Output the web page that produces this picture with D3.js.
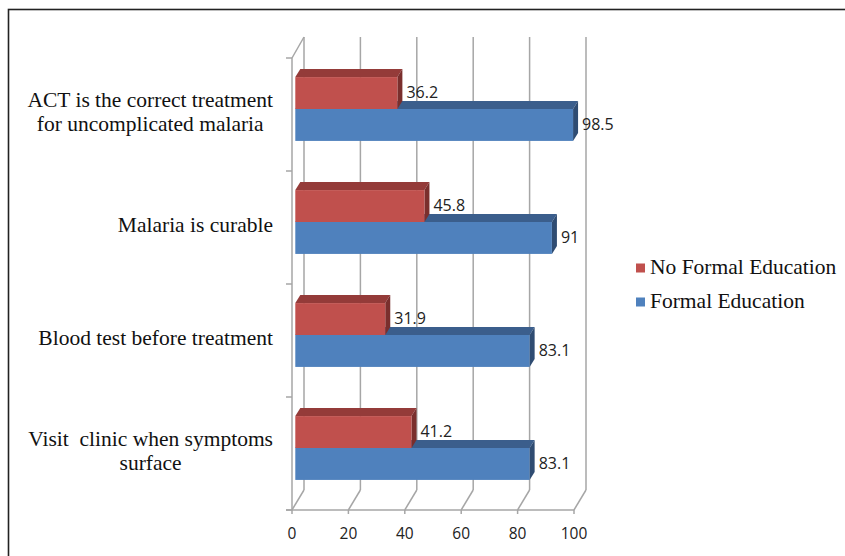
<!DOCTYPE html>
<html>
<head>
<meta charset="utf-8">
<script src="https://cdn.jsdelivr.net/npm/d3@7"></script>
<style>
  body { margin: 0; background: #fff; }
  .cat { font-family: "Liberation Serif", serif; font-size: 21.5px; fill: #111; white-space: pre; }
  .val { font-family: "Open Sans", sans-serif; font-size: 16px; fill: #222; }
  .tick-label { font-family: "Open Sans", sans-serif; font-size: 15.5px; fill: #222; }
  .leg { font-family: "Liberation Serif", serif; font-size: 21.5px; fill: #111; }
</style>
</head>
<body>
<div class="visHolder"></div>
<script>
const categories = [
  ["ACT is the correct treatment", "for uncomplicated malaria"],
  ["Malaria is curable"],
  ["Blood test before treatment"],
  ["Visit  clinic when symptoms", "surface"]
];
const seriesNames = ["Formal Education", "No Formal Education"];
const formalEdu = [98.5, 91, 83.1, 83.1];
const noFormalEdu = [36.2, 45.8, 31.9, 41.2];
const xTicks = [0, 20, 40, 60, 80, 100];

const width = 845, height = 556;
const svg = d3.select(".visHolder").append("svg")
  .attr("width", width).attr("height", height);

// chart frame
svg.append("rect")
  .attr("x", 8.5).attr("y", 9.5)
  .attr("width", 845).attr("height", 560)
  .attr("fill", "none").attr("stroke", "#222").attr("stroke-width", 1.6);

// front plane scales
const xScale = d3.scaleLinear().domain([0, 100]).range([292, 574]);
const catKeys = categories.map((d, i) => i);
const yScale = d3.scaleBand().domain(catKeys).range([58, 510]);
const inner = d3.scaleBand().domain(["no", "formal"])
  .range([0, yScale.bandwidth()]).paddingOuter(0.77);

// depth vectors
const DX = 12, DY = -20;        // wall depth
const BX = 3.3, BY = -5.5;      // bar front plane offset
const TX = 5, TY = -8;          // bar depth

const grid = "#a6a6a6";
const yTop = 37, yBot = 510;

// back wall gridlines
svg.append("g").selectAll("line").data(xTicks).enter().append("line")
  .attr("x1", d => xScale(d) + DX).attr("x2", d => xScale(d) + DX)
  .attr("y1", yTop).attr("y2", yBot + DY)
  .attr("stroke", grid).attr("stroke-width", 1.5);

// floor diagonals
svg.append("g").selectAll("line").data(xTicks).enter().append("line")
  .attr("x1", d => xScale(d)).attr("x2", d => xScale(d) + DX)
  .attr("y1", yBot).attr("y2", yBot + DY)
  .attr("stroke", grid).attr("stroke-width", 1.5);

// left wall
svg.append("line")
  .attr("x1", xScale(0)).attr("x2", xScale(0))
  .attr("y1", 58).attr("y2", yBot)
  .attr("stroke", grid).attr("stroke-width", 1.5);
svg.append("line")
  .attr("x1", xScale(0)).attr("x2", xScale(0) + DX)
  .attr("y1", 58).attr("y2", 58 + DY - 1)
  .attr("stroke", grid).attr("stroke-width", 1.5);

// category ticks on left wall
const catTicks = catKeys.map(k => yScale(k)).concat([yBot]);
svg.append("g").selectAll("line").data(catTicks).enter().append("line")
  .attr("x1", xScale(0) - 6).attr("x2", xScale(0))
  .attr("y1", d => d).attr("y2", d => d)
  .attr("stroke", grid).attr("stroke-width", 1.5);

// x axis front line
svg.append("line")
  .attr("x1", xScale(0) - 6).attr("x2", xScale(100))
  .attr("y1", yBot).attr("y2", yBot)
  .attr("stroke", grid).attr("stroke-width", 1.5);
svg.append("g").selectAll("line").data(xTicks).enter().append("line")
  .attr("x1", d => xScale(d)).attr("x2", d => xScale(d))
  .attr("y1", yBot).attr("y2", yBot + 4)
  .attr("stroke", grid).attr("stroke-width", 1.5);
svg.append("g").selectAll("text").data(xTicks).enter().append("text")
  .attr("class", "tick-label")
  .attr("x", d => xScale(d)).attr("y", 539)
  .attr("text-anchor", "middle")
  .text(d => d);

// bars
const colors = {
  formal: { front: "#4F81BD", top: "#3B5E8C", side: "#2F4C72" },
  no: { front: "#C0504D", top: "#943B39", side: "#7A2F2D" }
};

function drawBar(i, key, v) {
  const c = colors[key];
  const x0 = xScale(0) + BX, x1 = xScale(v) + BX;
  const y0 = yScale(i) + inner(key) + BY, h = inner.bandwidth();
  const g = svg.append("g");
  g.append("path")
    .attr("d", `M${x0},${y0} L${x0 + TX},${y0 + TY} L${x1 + TX},${y0 + TY} L${x1},${y0} Z`)
    .attr("fill", c.top);
  g.append("path")
    .attr("d", `M${x1},${y0} L${x1 + TX},${y0 + TY} L${x1 + TX},${y0 + h + TY} L${x1},${y0 + h} Z`)
    .attr("fill", c.side);
  g.append("rect")
    .attr("x", x0).attr("y", y0)
    .attr("width", x1 - x0).attr("height", h)
    .attr("fill", c.front);
  g.append("text")
    .attr("class", "val")
    .attr("x", x1 + TX + 4).attr("y", y0 + h / 2 + 1)
    .attr("dominant-baseline", "middle")
    .text(v);
}

catKeys.forEach(i => {
  drawBar(i, "formal", formalEdu[i]);
  drawBar(i, "no", noFormalEdu[i]);
});

// category labels
const labelRight = 273;
catKeys.forEach(i => {
  const lines = categories[i];
  const t = svg.append("text").attr("class", "cat");
  const cy = yScale(i) + yScale.bandwidth() / 2;
  const lh = 24;
  lines.forEach((ln, j) => {
    t.append("tspan").attr("y", cy + (j - (lines.length - 1) / 2) * lh)
      .attr("dominant-baseline", "middle").text(ln);
  });
  const tsp = t.selectAll("tspan").nodes();
  const maxW = d3.max(tsp, n => n.getComputedTextLength());
  t.attr("text-anchor", "middle");
  t.selectAll("tspan").attr("x", labelRight - maxW / 2);
});

// legend
const legendItems = [
  { name: seriesNames[1], color: colors.no.front },
  { name: seriesNames[0], color: colors.formal.front }
];
const leg = svg.append("g");
legendItems.forEach((d, i) => {
  const y = 268 + i * 34;
  leg.append("rect").attr("x", 636).attr("y", y - 4.5)
    .attr("width", 9).attr("height", 9).attr("fill", d.color);
  leg.append("text").attr("class", "leg")
    .attr("x", 650).attr("y", y + 1)
    .attr("dominant-baseline", "middle").text(d.name);
});
</script>
</body>
</html>
